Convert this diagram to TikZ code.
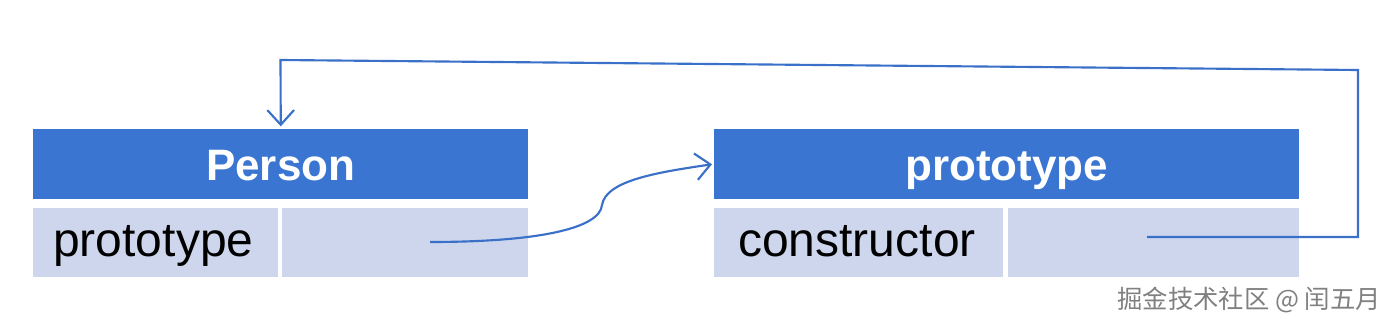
\documentclass[tikz,border=0pt]{standalone}
\usepackage{fontspec}
\setmainfont{Liberation Sans}
\newfontfamily\cjk{Noto Sans CJK SC}
\usetikzlibrary{arrows.meta}
\definecolor{hdr}{RGB}{58,117,209}
\definecolor{cell}{RGB}{205,214,236}
\definecolor{wire}{RGB}{58,112,200}
\begin{document}
\begin{tikzpicture}[x=0.75pt,y=-0.75pt,
  hdrbox/.style={fill=hdr,draw=none,anchor=north west,minimum height=52.5pt,inner sep=0pt,
    text height=28pt,text depth=4pt,
    text=white,font=\fontsize{33}{33}\selectfont\bfseries},
  cellbox/.style={fill=cell,draw=none,anchor=north west,minimum height=51.75pt,inner sep=0pt},
  celltext/.style={anchor=west,inner sep=0pt,text height=26pt,text depth=8pt,
    font=\fontsize{36}{36}\selectfont,text=black},
  wirestyle/.style={draw=wire,line width=1.6pt,
    -{Straight Barb[length=11pt,width=20pt,line width=1.6pt]}},
  wm/.style={font=\cjk\fontsize{19}{19}\selectfont,text=black!50,inner sep=0pt,anchor=east}]
\useasboundingbox (0,0) rectangle (1396,328);
% Person
\node[hdrbox,minimum width=371.25pt] (ph) at (33,129) {Person};
\node[cellbox,minimum width=183.75pt] (pl) at (33,208) {};
\node[cellbox,minimum width=184.5pt] (pr) at (282,208) {};
\node[celltext] (plt) at ([xshift=15pt,yshift=-1pt]pl.west) {prototype};
% prototype
\node[hdrbox,minimum width=438.75pt] (th) at (714,129) {prototype};
\node[cellbox,minimum width=216.75pt] (tl) at (714,208) {};
\node[cellbox,minimum width=218.25pt] (tr) at (1008,208) {};
\node[celltext] (tlt) at ([xshift=18pt,yshift=-1pt]tl.west) {constructor};
% connector endpoints
\coordinate (s1) at (430,242);
\coordinate (s2) at (1147,237);
\coordinate (k1) at (1358,237);
\coordinate (k2) at (1358,70);
\coordinate (k3) at (280.5,60);
% curve from Person.prototype to prototype header
\draw[wirestyle] (s1) .. controls (540,242) and (600,228) .. (602,205)
  .. controls (606,180) and (660,172) .. ([xshift=-1.5pt]th.west);
% constructor back to Person
\draw[wirestyle] (s2) -- (k1) -- (k2) -- (k3) -- ([yshift=2pt]ph.north);
% watermark
\node[wm] (wmk) at (1381,300) {掘金技术社区 @ 闰五月};
\end{tikzpicture}
\end{document}
